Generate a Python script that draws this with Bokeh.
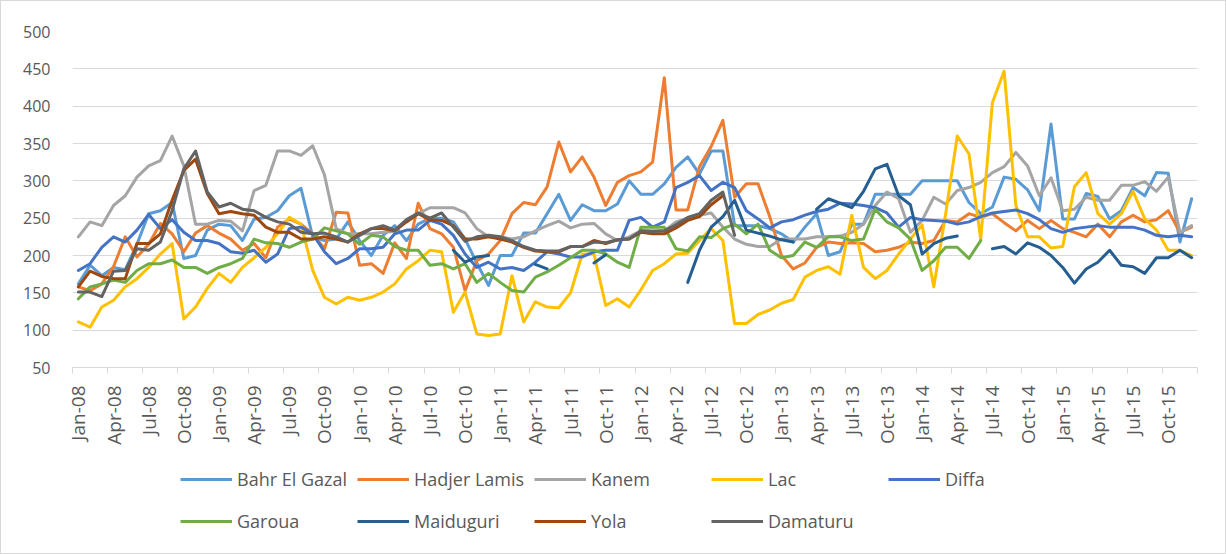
import numpy as np
from bokeh.plotting import figure
from bokeh.layouts import column
from bokeh.models import FixedTicker, Legend, LegendItem
from bokeh.embed import file_html
from bokeh.resources import INLINE

nan = float("nan")

tick_labels = ["Jan-08", "Apr-08", "Jul-08", "Oct-08", "Jan-09", "Apr-09", "Jul-09", "Oct-09",
               "Jan-10", "Apr-10", "Jul-10", "Oct-10", "Jan-11", "Apr-11", "Jul-11", "Oct-11",
               "Jan-12", "Apr-12", "Jul-12", "Oct-12", "Jan-13", "Apr-13", "Jul-13", "Oct-13",
               "Jan-14", "Apr-14", "Jul-14", "Oct-14", "Jan-15", "Apr-15", "Jul-15", "Oct-15"]

bahr_el_gazal = [162, 187, 173, 184, 181, 215, 256, 260, 271, 196, 200, 234, 242, 240, 220, 249,
                 251, 260, 280, 290, 225, 220, 222, 245, 220, 200, 227, 240, 220, 242, 250, 250,
                 245, 222, 190, 160, 200, 200, 230, 230, 256, 282, 247, 268, 260, 260, 269, 300,
                 282, 282, 296, 318, 332, 309, 340, 340, 240, 240, 240, 236, 229, 218, 238, 256,
                 200, 205, 242, 242, 282, 282, 282, 282, 300, 300, 300, 300, 271, 256, 265, 305,
                 302, 288, 260, 376, 249, 249, 283, 279, 249, 260, 291, 280, 311, 310, 218, 276]
hadjer_lamis = [158, 153, 162, 185, 225, 198, 215, 243, 229, 205, 230, 240, 230, 222, 207, 216,
                197, 238, 249, 242, 229, 209, 258, 257, 187, 189, 176, 217, 196, 270, 236, 229,
                211, 153, 193, 202, 220, 256, 271, 268, 292, 352, 312, 332, 305, 267, 298, 307,
                312, 325, 438, 261, 261, 319, 346, 381, 278, 296, 296, 252, 200, 182, 190, 211,
                218, 216, 217, 216, 205, 207, 211, 218, 216, 220, 247, 245, 256, 251, 256, 244,
                233, 247, 236, 247, 236, 231, 225, 242, 225, 245, 254, 245, 248, 260, 231, 238]
kanem = [225, 245, 240, 267, 280, 305, 320, 327, 360, 320, 242, 242, 247, 246, 233, 287,
         294, 340, 340, 334, 347, 308, 236, 229, 229, 229, 231, 232, 247, 256, 264, 264,
         264, 257, 236, 225, 225, 222, 225, 233, 240, 246, 237, 242, 243, 229, 220, 225,
         233, 233, 233, 245, 250, 254, 257, 238, 222, 215, 212, 212, 222, 222, 222, 225,
         225, 226, 231, 242, 267, 285, 276, 231, 247, 278, 269, 287, 291, 298, 311, 319,
         338, 320, 280, 304, 260, 262, 278, 274, 274, 294, 294, 299, 286, 305, 231, 240]
lac = [111, 104, 131, 140, 158, 169, 184, 202, 216, 115, 131, 156, 176, 164, 184, 197,
       211, 229, 251, 242, 180, 144, 135, 144, 140, 144, 151, 162, 182, 193, 207, 205,
       124, 151, 95, 93, 95, 173, 111, 138, 131, 130, 150, 202, 202, 133, 142, 131,
       154, 180, 189, 202, 203, 220, 236, 220, 109, 109, 121, 127, 136, 141, 171, 180,
       185, 175, 254, 184, 169, 180, 202, 222, 241, 158, 255, 360, 336, 222, 405, 447,
       267, 225, 225, 210, 212, 292, 311, 256, 242, 256, 286, 249, 234, 207, 207, 200]
diffa = [180, 189, 211, 225, 218, 234, 255, 236, 248, 231, 220, 220, 216, 205, 203, 207,
         191, 202, 236, 238, 229, 205, 189, 196, 209, 209, 211, 229, 234, 234, 247, 242,
         227, 202, 184, 191, 182, 184, 180, 191, 205, 202, 198, 198, 205, 207, 207, 247,
         251, 238, 245, 291, 298, 307, 287, 298, 291, 260, 249, 237, 245, 248, 254, 259,
         262, 270, 269, 267, 264, 257, 238, 251, 248, 247, 246, 242, 245, 252, 257, 259,
         261, 256, 248, 236, 231, 236, 238, 240, 238, 238, 238, 234, 227, 225, 227, 225]
garoua = [142, 158, 162, 167, 164, 180, 189, 189, 194, 184, 184, 176, 184, 189, 196, 222,
          217, 216, 211, 218, 222, 237, 233, 229, 215, 227, 225, 212, 207, 207, 187, 189,
          182, 189, 164, 176, 164, 153, 151, 171, 178, 187, 197, 207, 207, 202, 191, 184,
          238, 238, 238, 209, 206, 225, 224, 236, 242, 229, 242, 207, 197, 200, 218, 211,
          225, 225, 220, 222, 262, 245, 237, 222, 180, 193, 211, 211, 196, 220, nan, nan,
          nan, nan, nan, nan, nan, nan, nan, nan, nan, nan, nan, nan, nan, nan, nan, nan]
maiduguri = [nan, nan, nan, nan, nan, nan, nan, nan, nan, nan, nan, nan, nan, nan, nan, nan,
             nan, nan, nan, nan, nan, nan, nan, nan, nan, nan, nan, nan, nan, nan, nan, nan,
             207, 191, 198, 200, nan, nan, nan, 188, 182, nan, nan, nan, 190, 201, nan, nan,
             nan, nan, nan, nan, 164, 207, 238, 252, 274, 234, 230, 226, 221, 218, nan, 262,
             276, 270, 264, 286, 316, 322, 280, 268, 202, 216, 223, 226, nan, nan, 209, 212,
             202, 217, 211, 200, 184, 163, 182, 191, 207, 187, 185, 176, 197, 197, 207, 197]
yola = [158, 179, 172, 169, 169, 216, 216, 229, 274, 314, 329, 283, 256, 259, 256, 254,
        238, 231, 231, 222, 222, 225, 222, 218, 229, 236, 236, 233, 245, 256, 248, 247,
        240, 222, 222, 225, 222, 218, 211, 206, 205, 205, 212, 212, 220, 216, 221, 222,
        231, 229, 229, 237, 247, 252, 268, 280, nan, nan, nan, nan, nan, nan, nan, nan,
        nan, nan, nan, nan, nan, nan, nan, nan, nan, nan, nan, nan, nan, nan, nan, nan,
        nan, nan, nan, nan, nan, nan, nan, nan, nan, nan, nan, nan, nan, nan, nan, nan]
damaturu = [151, 151, 145, 179, 180, 209, 207, 218, 260, 316, 340, 285, 265, 270, 262, 260,
            251, 245, 242, 231, 229, 230, 225, 218, 227, 236, 240, 234, 248, 257, 250, 257,
            238, 219, 225, 227, 225, 220, 212, 207, 206, 206, 212, 212, 218, 217, 221, 222,
            233, 232, 233, 241, 251, 256, 274, 285, 227, nan, nan, nan, nan, nan, nan, nan,
            nan, nan, nan, nan, nan, nan, nan, nan, nan, nan, nan, nan, nan, nan, nan, nan,
            nan, nan, nan, nan, nan, nan, nan, nan, nan, nan, nan, nan, nan, nan, nan, nan]

series_names = ["Bahr El Gazal", "Hadjer Lamis", "Kanem", "Lac", "Diffa",
                "Garoua", "Maiduguri", "Yola", "Damaturu"]
series_values = [bahr_el_gazal, hadjer_lamis, kanem, lac, diffa, garoua, maiduguri, yola, damaturu]
series_colors = ["#5B9BD5", "#ED7D31", "#A5A5A5", "#FFC000", "#4472C4",
                 "#70AD47", "#255E91", "#9E480E", "#636363"]

months = list(range(len(bahr_el_gazal)))

FONT = "Open Sans"
TXT = "#595959"

p = figure(width=1224, height=452, x_range=(-0.5, 95.5), y_range=(50, 500),
           output_backend="svg", toolbar_location=None,
           min_border_left=71, min_border_right=28, min_border_top=30, min_border_bottom=86)
p.outline_line_color = None
p.background_fill_color = "white"
p.border_fill_color = "white"

# y axis
p.yaxis.ticker = FixedTicker(ticks=list(range(50, 501, 50)))
p.yaxis.axis_line_color = None
p.yaxis.major_tick_line_color = None
p.yaxis.minor_tick_line_color = None
p.yaxis.major_tick_out = 0
p.yaxis.major_tick_in = 0
p.yaxis.major_label_standoff = 22
p.yaxis.major_label_text_font = FONT
p.yaxis.major_label_text_font_size = "16px"
p.yaxis.major_label_text_color = TXT
p.ygrid.grid_line_color = "#d9d9d9"
p.ygrid.grid_line_width = 1
p.xgrid.visible = False

# x axis
label_pos = list(range(0, 96, 3))
p.xaxis.ticker = FixedTicker(ticks=label_pos, minor_ticks=[k - 0.5 for k in range(0, 97, 3)])
p.xaxis.major_label_overrides = {pos: lab for pos, lab in zip(label_pos, tick_labels)}
p.xaxis.major_label_orientation = np.pi / 2
p.xaxis.axis_line_color = "#d9d9d9"
p.xaxis.axis_line_width = 1
p.xaxis.major_tick_line_color = None
p.xaxis.major_tick_out = 0
p.xaxis.major_tick_in = 0
p.xaxis.minor_tick_line_color = "#d9d9d9"
p.xaxis.minor_tick_out = 6
p.xaxis.minor_tick_in = 0
p.xaxis.major_label_standoff = 12
p.xaxis.major_label_text_font = FONT
p.xaxis.major_label_text_font_size = "19px"
p.xaxis.major_label_text_color = TXT

for name, vals, col in zip(series_names, series_values, series_colors):
    p.line(months, vals, line_color=col, line_width=3, line_join="round", line_cap="round")

# legend strip below the chart (its y range lies far below the data, so only the legend shows)
pl = figure(width=1224, height=100, x_range=(-0.5, 95.5), y_range=(-1001, -1000),
            output_backend="svg", toolbar_location=None,
            x_axis_type=None, y_axis_type=None, min_border=0)
pl.outline_line_color = None
pl.grid.visible = False
pl.border_fill_color = "white"
pl.background_fill_color = "white"

items = []
for name, vals, col in zip(series_names, series_values, series_colors):
    r = pl.line(months, vals, line_color=col, line_width=3, line_cap="butt")
    items.append(LegendItem(label=name, renderers=[r]))

legend = Legend(items=items, location=(108, 12), orientation="horizontal", ncols=5,
                glyph_width=52, glyph_height=40, label_height=40, label_width=118,
                label_standoff=5, spacing=2, padding=0, margin=0,
                border_line_color=None, background_fill_alpha=0,
                label_text_font=FONT, label_text_font_size="18px", label_text_color=TXT)
pl.add_layout(legend, "center")

layout = column(p, pl, spacing=0, styles={"border": "1px solid #d9d9d9"})
open("out.html", "w").write(file_html(layout, INLINE))
